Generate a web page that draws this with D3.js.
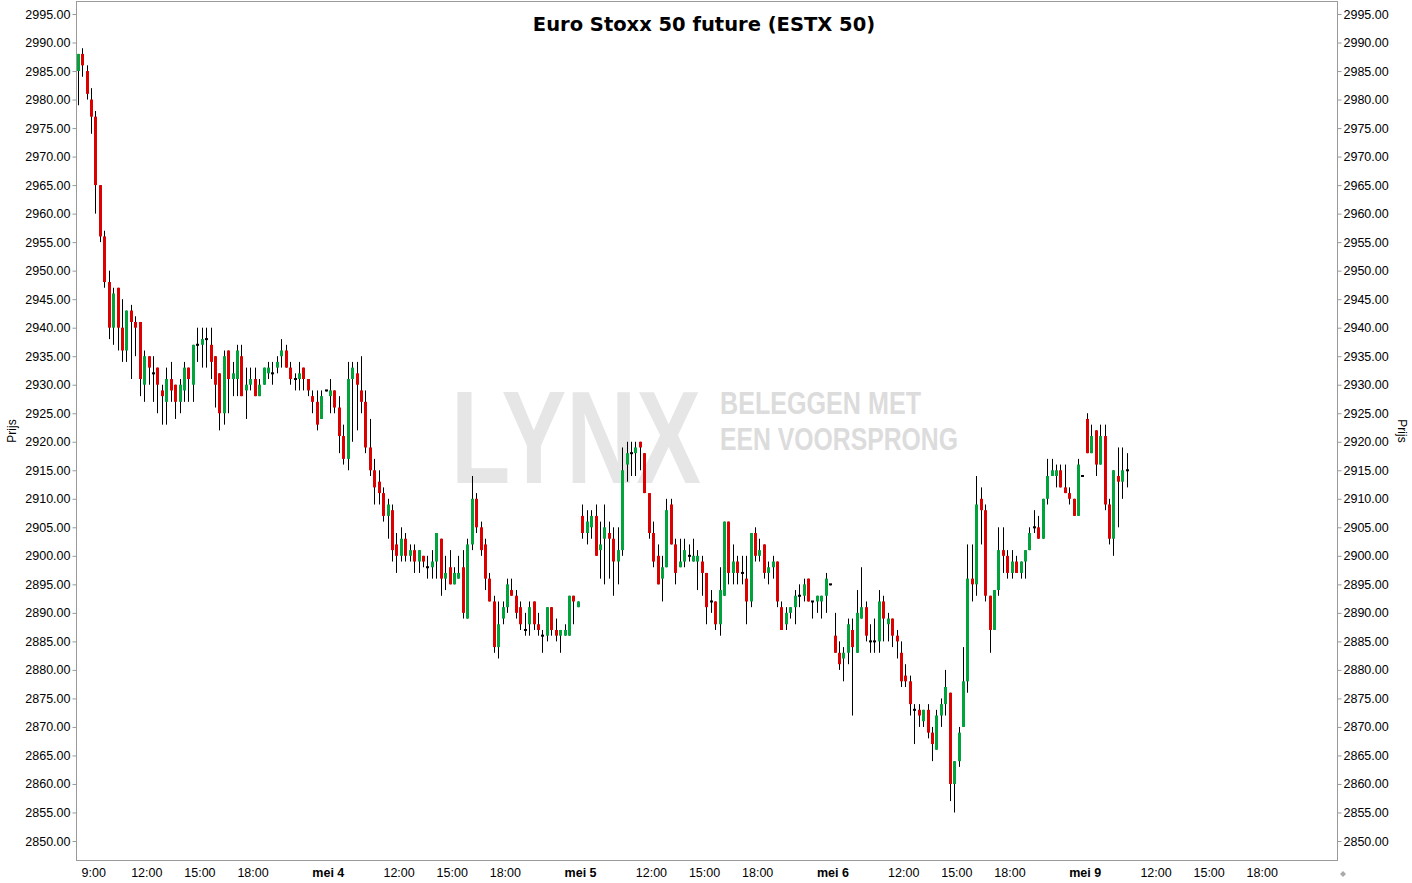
<!DOCTYPE html>
<html><head><meta charset="utf-8">
<script src="https://cdn.jsdelivr.net/npm/d3@7"></script>
<style>body{margin:0;background:#fff}svg{display:block}</style>
</head><body>
<svg id="c" width="1412" height="883"></svg>
<script>
// ---- DATA ----
const days = ["mei 3","mei 4","mei 5","mei 6","mei 9"];
const sessionStart = 8, barsPerDay = 57; // 08:00 .. 22:00, 15-minute bars
const open = [
2985,2988,2985,2980,2977,2965,2956,2948,2940,2947,
2940,2936,2943,2941,2941,2930,2935,2932,2933,2929,
2927,2931,2930,2927,2929,2933,2930,2937,2937,2938,
2937,2935,2932,2925,2936,2931,2931,2935,2929,2930,
2931,2928,2930,2932,2932,2933,2935,2936,2933,2931,
2931,2933,2931,2928,2927,2924,2929,2928,2929,2926,
2921,2917,2931,2932,2929,2927,2919,2915,2913,2911,
2907,2908,2902,2900,2903,2900,2901,2899,2900,2898,
2898,2899,2903,2896,2898,2895,2896,2898,2889,2902,
2910,2905,2902,2896,2892,2884,2889,2891,2894,2893,
2891,2887,2888,2892,2888,2886,2886,2891,2887,2886,
2886,2886,2893,2891,2907,2904,2905,2907,2901,2903,
2904,2903,2899,2901,2916,2918,2918,2920,2918,2911,
2904,2900,2896,2898,2909,2902,2898,2899,2900,2899,
2899,2899,2897,2892,2892,2888,2893,2906,2897,2899,
2897,2896,2892,2904,2900,2902,2897,2898,2899,2891,
2888,2890,2891,2893,2893,2896,2892,2892,2892,2893,
2895,2886,2883,2882,2883,2887,2883,2889,2891,2885,
2885,2885,2892,2888,2889,2886,2883,2879,2878,2873,
2873,2871,2873,2869,2866,2872,2874,2876,2860,2864,
2870,2878,2896,2895,2910,2908,2893,2887,2894,2901,
2900,2897,2899,2897,2899,2901,2905,2905,2903,2910,
2914,2914,2915,2912,2911,2910,2907,2914,2924,2918,
2922,2916,2921,2909,2903,2914,2913,2915];
const close = [
2988,2986,2981,2977,2965,2956,2948,2940,2946,2940,
2936,2943,2941,2940,2931,2935,2933,2932,2930,2928,
2931,2929,2927,2930,2933,2931,2937,2937,2938,2938,
2934,2930,2925,2935,2931,2932,2936,2928,2930,2931,
2928,2930,2933,2933,2932,2934,2936,2933,2931,2931,
2932,2931,2929,2927,2923,2928,2929,2929,2926,2921,
2917,2931,2933,2930,2927,2919,2915,2912,2911,2907,
2909,2901,2900,2903,2900,2901,2899,2901,2899,2898,
2899,2904,2896,2897,2895,2897,2897,2890,2902,2910,
2905,2901,2896,2892,2884,2888,2891,2895,2893,2890,
2888,2887,2891,2888,2887,2886,2891,2887,2886,2887,
2887,2893,2892,2892,2904,2906,2907,2900,2902,2905,
2903,2899,2901,2915,2918,2918,2919,2919,2911,2904,
2899,2895,2898,2908,2902,2897,2899,2901,2900,2900,
2900,2897,2891,2892,2888,2894,2906,2897,2899,2897,
2897,2892,2904,2900,2901,2897,2898,2899,2892,2887,
2890,2891,2893,2893,2895,2892,2892,2893,2893,2896,
2895,2883,2881,2883,2888,2884,2890,2891,2886,2885,
2885,2892,2889,2889,2886,2885,2878,2878,2874,2873,
2872,2873,2869,2867,2872,2874,2877,2860,2864,2869,
2878,2896,2895,2909,2908,2893,2887,2894,2901,2900,
2897,2899,2897,2899,2901,2904,2905,2903,2910,2914,
2915,2915,2912,2911,2910,2907,2916,2914,2918,2921,
2916,2921,2909,2903,2915,2913,2915,2915];
const high = [
2988,2989,2986,2982,2978,2965,2957,2950,2947,2947,
2945,2943,2944,2942,2941,2936,2935,2935,2933,2930,
2933,2934,2930,2931,2934,2933,2937,2940,2940,2940,
2940,2935,2932,2936,2936,2934,2937,2937,2933,2933,
2933,2931,2933,2934,2934,2935,2938,2937,2934,2932,
2934,2933,2931,2929,2929,2929,2929,2931,2929,2928,
2923,2934,2934,2934,2935,2929,2924,2917,2915,2912,
2910,2909,2904,2905,2904,2902,2902,2901,2900,2900,
2901,2904,2903,2900,2901,2898,2900,2901,2903,2914,
2911,2906,2903,2897,2893,2892,2892,2896,2896,2894,
2892,2890,2892,2892,2890,2887,2891,2891,2889,2887,
2888,2893,2893,2892,2909,2908,2908,2909,2906,2909,
2906,2905,2905,2919,2920,2920,2920,2920,2918,2911,
2906,2902,2900,2910,2910,2903,2903,2903,2902,2903,
2901,2900,2897,2894,2892,2898,2906,2906,2902,2900,
2900,2900,2904,2905,2903,2902,2899,2900,2899,2892,
2891,2891,2894,2895,2896,2896,2892,2893,2893,2897,
2895,2890,2885,2884,2889,2889,2894,2898,2892,2888,
2889,2894,2893,2890,2889,2887,2885,2881,2879,2874,
2874,2873,2874,2870,2873,2875,2880,2876,2864,2870,
2884,2902,2902,2914,2912,2909,2893,2894,2905,2905,
2901,2901,2900,2899,2901,2905,2908,2907,2910,2917,
2917,2916,2916,2916,2912,2910,2917,2914,2925,2923,
2922,2923,2923,2910,2915,2919,2919,2918];
const low = [
2979,2984,2980,2974,2960,2955,2947,2938,2937,2936,
2934,2934,2931,2935,2928,2927,2930,2927,2925,2923,
2923,2927,2924,2925,2927,2927,2927,2934,2933,2933,
2931,2926,2922,2923,2925,2928,2928,2928,2924,2929,
2928,2928,2930,2931,2930,2932,2933,2933,2930,2929,
2929,2929,2928,2925,2922,2924,2929,2925,2925,2918,
2916,2915,2920,2922,2925,2918,2914,2909,2909,2906,
2903,2899,2897,2899,2899,2899,2897,2897,2898,2896,
2896,2896,2893,2894,2895,2895,2896,2889,2889,2901,
2904,2900,2894,2892,2883,2882,2888,2890,2893,2889,
2887,2886,2886,2887,2886,2883,2885,2886,2885,2883,
2886,2886,2888,2891,2903,2902,2903,2900,2896,2895,
2896,2893,2895,2900,2913,2914,2914,2915,2911,2903,
2898,2895,2892,2898,2902,2895,2898,2898,2899,2899,
2894,2893,2888,2890,2887,2886,2893,2895,2895,2895,
2895,2888,2891,2899,2899,2896,2895,2896,2891,2887,
2887,2889,2888,2891,2892,2892,2889,2890,2889,2890,
2895,2883,2880,2878,2881,2872,2883,2889,2885,2883,
2883,2883,2885,2885,2884,2882,2877,2877,2872,2867,
2870,2870,2868,2864,2866,2870,2872,2857,2855,2863,
2870,2876,2892,2893,2902,2892,2883,2887,2893,2897,
2896,2896,2897,2896,2896,2901,2904,2903,2903,2909,
2914,2912,2912,2911,2909,2907,2907,2914,2918,2918,
2914,2916,2908,2902,2900,2905,2910,2912];
const yTickValues = [2850,2855,2860,2865,2870,2875,2880,2885,2890,2895,2900,2905,2910,2915,2920,2925,2930,2935,2940,2945,2950,2955,2960,2965,2970,2975,2980,2985,2990,2995];
const xTickCats = ["mei 3 09:00","mei 3 12:00","mei 3 15:00","mei 3 18:00","mei 4 08:00","mei 4 12:00","mei 4 15:00","mei 4 18:00","mei 5 08:00","mei 5 12:00","mei 5 15:00","mei 5 18:00","mei 6 08:00","mei 6 12:00","mei 6 15:00","mei 6 18:00","mei 9 08:00","mei 9 12:00","mei 9 15:00","mei 9 18:00"];
const xTickLabels = ["9:00","12:00","15:00","18:00","mei 4","12:00","15:00","18:00","mei 5","12:00","15:00","18:00","mei 6","12:00","15:00","18:00","mei 9","12:00","15:00","18:00"];
const xTickBold = [0,0,0,0,1,0,0,0,1,0,0,0,1,0,0,0,1,0,0,0];

// ---- CATEGORIES (15-minute bars per trading day) ----
const pad = n => String(n).padStart(2,"0");
const categories = days.flatMap(d => d3.range(barsPerDay).map(k => {
  const m = sessionStart*60 + k*15; return d + " " + pad(Math.floor(m/60)) + ":" + pad(m%60);
}));
const n = Math.min(open.length, close.length, high.length, low.length);
const candles = d3.range(n).map(i => ({cat: categories[i], o: open[i], h: high[i], l: low[i], c: close[i]}));

// ---- CHART ----
const svg = d3.select("#c");
const L = 76, R = 1337.5, T = 1, B = 860;
const x = d3.scaleBand().domain(categories).range([L, R]).padding(0);
const y = d3.scaleLinear().domain([2850, 2995]).range([841, 14]);
const font = "'Liberation Sans', Arial, sans-serif";
const RED = "#dc0000", GREEN = "#00a33c";

// watermark (condensed look via vertical scaling)
const wm = svg.append("g").style("font-family", font).style("font-weight", "bold");
wm.append("text").attr("transform", "translate(451,483) scale(1,1.41)")
  .attr("font-size", 93.7).attr("fill", "#e6e6e6").attr("textLength", 250).attr("lengthAdjust", "spacingAndGlyphs").text("LYNX");
wm.append("text").attr("transform", "translate(720,414) scale(1,1.25)")
  .attr("font-size", 25.3).attr("fill", "#dcdcdc").attr("textLength", 201).attr("lengthAdjust", "spacingAndGlyphs").text("BELEGGEN MET");
wm.append("text").attr("transform", "translate(720,450) scale(1,1.25)")
  .attr("font-size", 24.9).attr("fill", "#dcdcdc").attr("textLength", 238).attr("lengthAdjust", "spacingAndGlyphs").text("EEN VOORSPRONG");

// frame
svg.append("rect").attr("x", L + 0.5).attr("y", T + 0.5).attr("width", 1337 - L).attr("height", B - T)
  .attr("fill", "none").attr("stroke", "#9a9a9a");

// axes
const yl = svg.append("g").attr("transform", `translate(${L + 0.5},0)`)
  .call(d3.axisLeft(y).tickValues(yTickValues).tickFormat(d3.format(".2f")).tickSize(4).tickPadding(2));
const yr = svg.append("g").attr("transform", `translate(1337.5,0)`)
  .call(d3.axisRight(y).tickValues(yTickValues).tickFormat(d3.format(".2f")).tickSize(4).tickPadding(2));
[yl, yr].forEach(g => {
  g.select(".domain").remove();
  g.selectAll(".tick line").attr("stroke", "#9a9a9a");
  g.selectAll("text").attr("font-family", font).attr("font-size", 12.5).attr("fill", "#000");
});

// x labels
svg.append("g").selectAll("text").data(xTickCats).join("text")
  .attr("x", d => x(d)).attr("y", 877).attr("text-anchor", "middle")
  .attr("font-family", font).attr("font-size", 12.5)
  .attr("font-weight", (d, i) => xTickBold[i] ? "bold" : "normal")
  .text((d, i) => xTickLabels[i]);

// axis titles
svg.append("text").attr("transform", "translate(16,431) rotate(-90)").attr("text-anchor", "middle")
  .attr("font-family", font).attr("font-size", 12).text("Prijs");
svg.append("text").attr("transform", "translate(1398,431) rotate(90)").attr("text-anchor", "middle")
  .attr("font-family", font).attr("font-size", 12).text("Prijs");

// title
svg.append("text").attr("x", 704).attr("y", 31).attr("text-anchor", "middle")
  .attr("font-family", "'DejaVu Sans', Verdana, sans-serif").attr("font-weight", "bold").attr("font-size", 19.5)
  .text("Euro Stoxx 50 future (ESTX 50)");

// small marker bottom right
svg.append("path").attr("d", "M1343,871 l3,3 l-3,3 l-3,-3 z").attr("fill", "#aaa");

// candles
const cx = d => Math.floor(x(d.cat) + x.bandwidth() / 2);
const g = svg.append("g");
g.selectAll(".wick").data(candles).join("rect").attr("class", "wick")
  .attr("x", d => cx(d)).attr("width", 1)
  .attr("y", d => y(Math.max(d.h, d.o, d.c)))
  .attr("height", d => Math.max(1, y(Math.min(d.l, d.o, d.c)) - y(Math.max(d.h, d.o, d.c))))
  .attr("fill", "#000");
g.selectAll(".body").data(candles).join("rect").attr("class", "body")
  .attr("x", d => cx(d) - 1).attr("width", 3)
  .attr("y", d => d.o === d.c ? y(d.o) - 1 : y(Math.max(d.o, d.c)))
  .attr("height", d => d.o === d.c ? 2 : y(Math.min(d.o, d.c)) - y(Math.max(d.o, d.c)))
  .attr("fill", d => d.o === d.c ? "#000" : (d.c > d.o ? GREEN : RED));
</script>
</body></html>
